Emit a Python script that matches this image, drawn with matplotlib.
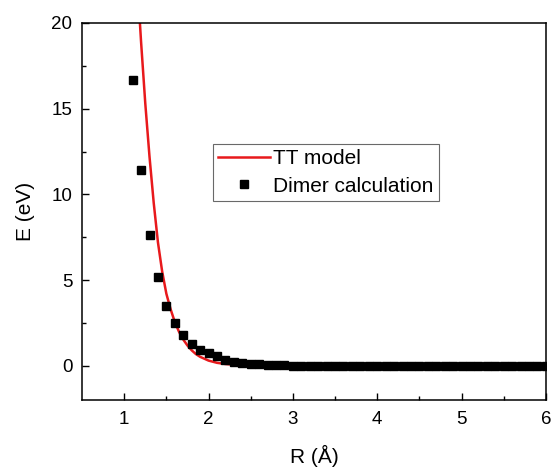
import numpy as np
import matplotlib
matplotlib.use("Agg")
import matplotlib.pyplot as plt

plt.rcParams['font.family'] = ['Liberation Sans', 'DejaVu Sans']

# dimer calculation points
r_dimer = [1.1, 1.2, 1.3, 1.4, 1.5, 1.6, 1.7, 1.8, 1.9, 2.0,
           2.1, 2.2, 2.3, 2.4, 2.5, 2.6, 2.7, 2.8, 2.9, 3.0,
           3.1, 3.2, 3.3, 3.4, 3.5, 3.6, 3.7, 3.8, 3.9, 4.0,
           4.1, 4.2, 4.3, 4.4, 4.5, 4.6, 4.7, 4.8, 4.9, 5.0,
           5.1, 5.2, 5.3, 5.4, 5.5, 5.6, 5.7, 5.8, 5.9, 6.0]
e_dimer = [16.7, 11.4, 7.65, 5.15, 3.5, 2.47, 1.77, 1.28, 0.93, 0.72,
           0.54, 0.36, 0.24, 0.17, 0.12, 0.08, 0.05, 0.03, 0.02, 0.01,
           0, 0, 0, 0, 0, 0, 0, 0, 0, 0,
           0, 0, 0, 0, 0, 0, 0, 0, 0, 0,
           0, 0, 0, 0, 0, 0, 0, 0, 0, 0]

# TT model curve
r_tt = [1.18, 1.2, 1.25, 1.3, 1.35, 1.4, 1.45, 1.5, 1.55, 1.6,
        1.65, 1.7, 1.75, 1.8, 1.85, 1.9, 2.0, 2.1, 2.2, 2.3,
        2.4, 2.6, 2.8, 3.0, 4.0, 5.0, 6.0]
e_tt = [20.5, 18.9, 15.3, 12.2, 9.5, 7.2, 5.5, 4.2, 3.3, 2.55,
        1.98, 1.53, 1.18, 0.9, 0.68, 0.52, 0.3, 0.17, 0.1, 0.06,
        0.035, 0.012, 0.004, 0.0, 0.0, 0.0, 0.0]

fig = plt.figure(figsize=(5.52, 4.68), dpi=100)
ax = fig.add_axes([0.1486, 0.1453, 0.8404, 0.8056])

ax.plot(r_tt, e_tt, color='#e8191c', lw=1.8, label='TT model', zorder=2)
ax.plot(r_dimer, e_dimer, 's', color='black', ms=5.5, lw=0,
        label='Dimer calculation', zorder=3)

ax.set_xlim(0.5, 6)
ax.set_ylim(-2, 20)
ax.set_xticks([1, 2, 3, 4, 5, 6])
ax.set_xticks([1.5, 2.5, 3.5, 4.5, 5.5], minor=True)
ax.set_yticks([0, 5, 10, 15, 20])
ax.set_yticks([2.5, 7.5, 12.5, 17.5], minor=True)
ax.tick_params(which='both', direction='in', top=False, right=False,
               labelsize=13.5, width=1)
ax.tick_params(axis='x', pad=8)
ax.tick_params(axis='y', pad=7)
ax.tick_params(which='major', length=5)
ax.tick_params(which='minor', length=3)
for s in ax.spines.values():
    s.set_linewidth(1.1)

ax.set_xlabel('R (Å)', fontsize=15, labelpad=12)
ax.set_ylabel('E (eV)', fontsize=15, labelpad=12)

leg = ax.legend(loc='upper left', bbox_to_anchor=(0.282, 0.679),
                fontsize=15, frameon=True, fancybox=False, handlelength=2.5,
                handletextpad=0.15, borderpad=0.25, labelspacing=0.4,
                borderaxespad=0)
leg.get_frame().set_edgecolor('#444444')
leg.get_frame().set_linewidth(0.8)

fig.savefig('out.png', dpi=100)
